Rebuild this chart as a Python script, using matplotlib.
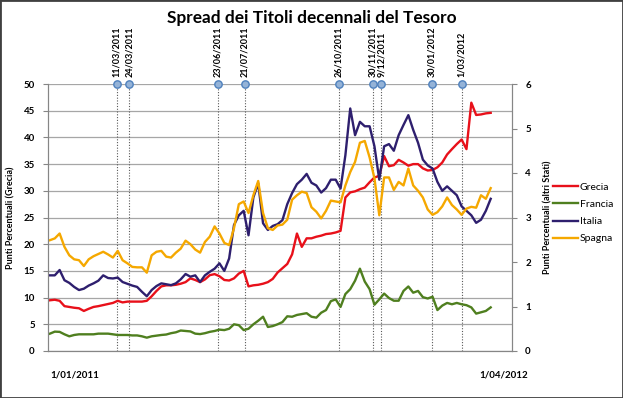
import matplotlib
matplotlib.use('Agg')
import matplotlib.pyplot as plt
import pandas as pd
from matplotlib.patches import Rectangle

plt.rcParams['font.family'] = ['Lato', 'DejaVu Sans']

# rilevazioni ogni 5 giorni a partire dal 1/01/2011
date = pd.date_range('2011-01-01', periods=92, freq='5D')

# Grecia: asse sinistro (punti percentuali)
grecia = [9.5, 9.6, 9.4, 8.4, 8.25, 8.1, 8.0, 7.5, 7.9, 8.25,
          8.4, 8.6, 8.8, 9.0, 9.4, 9.1, 9.25, 9.25, 9.25, 9.25,
          9.4, 10.25, 11.25, 12.1, 12.3, 12.3, 12.4, 12.6, 12.9, 13.6,
          13.3, 12.9, 13.4, 14.2, 14.4, 14.0, 13.3, 13.2, 13.6, 14.5,
          15.0, 12.1, 12.3, 12.4, 12.6, 12.9, 13.5, 14.7, 15.5, 16.3,
          18.1, 22.0, 19.5, 21.1, 21.1, 21.4, 21.6, 21.9, 22.0, 22.2,
          22.5, 28.75, 29.7, 29.9, 30.3, 30.6, 31.6, 32.5, 32.8, 36.5,
          34.6, 34.8, 35.8, 35.3, 34.7, 35.0, 35.0, 34.2, 33.8, 33.9,
          34.4, 35.3, 36.8, 37.8, 38.75, 39.6, 37.8, 46.5, 44.2, 44.3,
          44.5, 44.6]

# altri stati: asse destro
francia = [0.39, 0.435, 0.43, 0.375, 0.33, 0.36, 0.375, 0.375, 0.375, 0.375,
           0.39, 0.39, 0.39, 0.375, 0.36, 0.36, 0.36, 0.35, 0.35, 0.33,
           0.30, 0.33, 0.345, 0.36, 0.37, 0.40, 0.42, 0.46, 0.45, 0.44,
           0.39, 0.38, 0.40, 0.43, 0.45, 0.48, 0.47, 0.50, 0.60, 0.58,
           0.47, 0.50, 0.60, 0.68, 0.77, 0.54, 0.56, 0.60, 0.65, 0.78,
           0.77, 0.81, 0.83, 0.85, 0.77, 0.75, 0.86, 0.92, 1.12, 1.16,
           0.99, 1.28, 1.39, 1.58, 1.85, 1.56, 1.39, 1.04, 1.16, 1.29,
           1.19, 1.13, 1.13, 1.35, 1.45, 1.31, 1.35, 1.21, 1.18, 1.22,
           0.92, 1.02, 1.08, 1.05, 1.08, 1.05, 1.03, 0.98, 0.84, 0.87,
           0.90, 0.98]

italia = [1.70, 1.70, 1.82, 1.59, 1.53, 1.44, 1.37, 1.40, 1.47, 1.52,
          1.58, 1.70, 1.64, 1.63, 1.65, 1.55, 1.51, 1.47, 1.44, 1.33,
          1.23, 1.37, 1.46, 1.52, 1.50, 1.48, 1.52, 1.61, 1.73, 1.67,
          1.70, 1.55, 1.70, 1.78, 1.85, 1.97, 1.80, 2.08, 2.83, 3.05,
          3.15, 2.60, 3.45, 3.77, 2.87, 2.72, 2.81, 2.85, 2.94, 3.30,
          3.55, 3.75, 3.85, 3.98, 3.78, 3.72, 3.56, 3.66, 3.85, 3.85,
          3.65, 4.40, 5.45, 4.85, 5.15, 5.05, 5.05, 4.60, 3.85, 4.60,
          4.65, 4.50, 4.85, 5.08, 5.30, 4.97, 4.68, 4.30, 4.17, 4.10,
          3.80, 3.60, 3.70, 3.60, 3.50, 3.25, 3.15, 3.05, 2.88, 2.95,
          3.15, 3.42]

spagna = [2.49, 2.53, 2.64, 2.34, 2.15, 2.06, 2.04, 1.91, 2.06, 2.13,
          2.18, 2.23, 2.17, 2.10, 2.25, 2.04, 1.97, 1.89, 1.88, 1.88,
          1.76, 2.15, 2.23, 2.25, 2.12, 2.10, 2.21, 2.30, 2.48, 2.40,
          2.28, 2.21, 2.45, 2.57, 2.80, 2.64, 2.43, 2.38, 2.76, 3.30,
          3.36, 3.10, 3.50, 3.82, 3.10, 2.76, 2.72, 2.82, 2.84, 2.95,
          3.40, 3.50, 3.58, 3.55, 3.23, 3.13, 2.98, 3.15, 3.38, 3.36,
          3.34, 3.72, 4.02, 4.25, 4.68, 4.72, 4.35, 3.88, 3.05, 3.90,
          3.90, 3.62, 3.80, 3.72, 4.10, 3.72, 3.60, 3.45, 3.18, 3.06,
          3.12, 3.25, 3.45, 3.28, 3.18, 3.06, 3.20, 3.24, 3.22, 3.50,
          3.42, 3.66]

# date degli eventi segnati in alto
eventi = ['2011-03-11', '2011-03-24', '2011-06-23', '2011-07-21', '2011-10-26',
          '2011-11-30', '2011-12-09', '2012-01-30', '2012-03-01']
eventi_label = ['11/03/2011', '24/03/2011', '23/06/2011', '21/07/2011', '26/10/2011',
                '30/11/2011', '9/12/2011', '30/01/2012', '1/03/2012']

grigio = '#868686'

fig = plt.figure(figsize=(6.23, 3.98), dpi=100)
ax = fig.add_axes([48/623, 1 - 351/398, 464/623, 267/398])
ax2 = ax.twinx()

ax.set_xlim(pd.Timestamp('2010-12-30'), pd.Timestamp('2012-04-22'))
ax.set_ylim(0, 50)
ax2.set_ylim(0, 6)
ax.set_yticks(range(0, 51, 5))
ax2.set_yticks(range(0, 7))
ax.set_xticks([])

ax.yaxis.grid(True, color='#a6a6a6', lw=0.9)
ax.set_axisbelow(True)

for a in (ax, ax2):
    a.spines['top'].set_visible(False)
    for s in ('left', 'right', 'bottom'):
        a.spines[s].set_color(grigio)
    a.tick_params(axis='y', length=3.5, color=grigio, labelsize=7, pad=6)
    for t in a.get_yticklabels():
        t.set_fontweight('bold')

# linee verticali degli eventi
ev = pd.to_datetime(eventi)
ax.vlines(ev, 0, 50, colors='#595959', linestyles=(0, (1, 1.5)), lw=0.8, zorder=1)
ax.plot(ev, [50] * len(ev), 'o', ms=5.3, mfc='#95B3D7', mec='#4F81BD', mew=1,
        clip_on=False, zorder=6)
for d, lab in zip(ev, eventi_label):
    ax.annotate(lab, (d, 50), xytext=(0, 5), textcoords='offset points',
                rotation=90, ha='center', va='bottom', fontsize=6.5,
                fontweight='bold')

l_gr, = ax.plot(date, grecia, color='#E8101A', lw=1.7, zorder=3)
l_fr, = ax2.plot(date, francia, color='#4F7F1F', lw=1.7)
l_it, = ax2.plot(date, italia, color='#2E1F6E', lw=1.7)
l_sp, = ax2.plot(date, spagna, color='#F5A800', lw=1.7)

ax.set_ylabel('Punti Percentuali (Grecia)', fontsize=6.5, fontweight='bold', labelpad=6)
ax2.set_ylabel('Punti Percentuali (altri Stati)', fontsize=6.5, fontweight='bold', labelpad=9)

ax.text(pd.Timestamp('2011-01-01'), -0.09, '1/01/2011', transform=ax.get_xaxis_transform(),
        ha='left', va='center', fontsize=7, fontweight='bold')
ax.text(1.035, -0.09, '1/04/2012', transform=ax.transAxes,
        ha='right', va='center', fontsize=7, fontweight='bold')

fig.text(0.5, 1 - 18.5/398, 'Spread dei Titoli decennali del Tesoro',
         ha='center', va='center', fontsize=12.4, fontweight='bold')

fig.legend([l_gr, l_fr, l_it, l_sp], ['Grecia', 'Francia', 'Italia', 'Spagna'],
           loc='center left', bbox_to_anchor=(553/623, 1 - 213/398), frameon=False,
           fontsize=7.5, handlelength=2.4, handletextpad=0.15, labelspacing=0.75,
           borderpad=0, borderaxespad=0)

fig.patches.append(Rectangle((0, 0), 1, 1, transform=fig.transFigure, fill=False,
                             ec='#404040', lw=2))

fig.savefig('out.png', dpi=100)
